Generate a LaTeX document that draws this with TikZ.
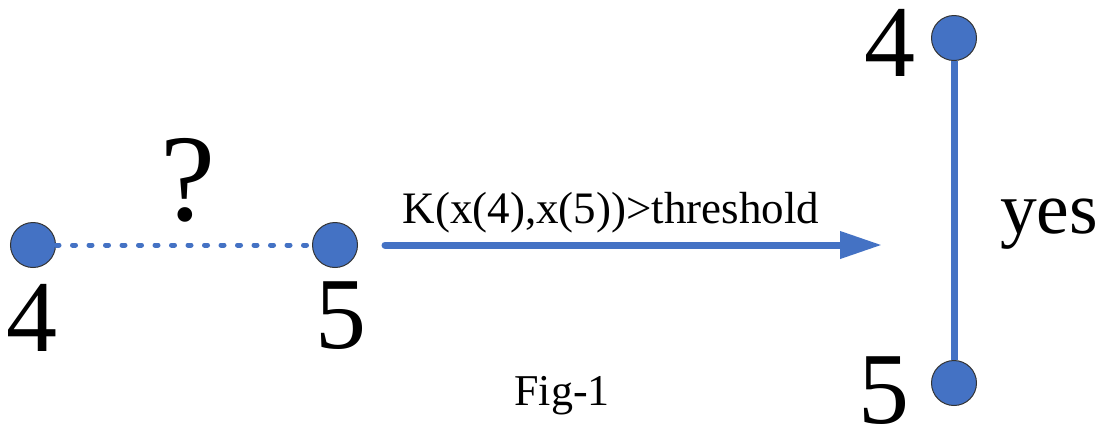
\documentclass[tikz,border=0pt]{standalone}
\usepackage{fontspec}
\setmainfont{Liberation Serif}
\usetikzlibrary{arrows.meta}
\definecolor{nodeblue}{RGB}{68,114,196}
\tikzset{
  vtx/.style={circle, draw=black!80, line width=0.5pt, fill=nodeblue, minimum size=22.5pt, inner sep=0pt},
  bignum/.style={inner sep=0pt, font=\fontsize{51}{51}\selectfont},
  edgeline/.style={nodeblue, line width=3.5pt}
}

\begin{document}
\begin{tikzpicture}[x=0.5pt, y=-0.5pt]
  \useasboundingbox (0,0) rectangle (1103,430);
  % left pair, not yet linked
  \node[vtx] (p4) at (33,245) {};
  \node[vtx] (p5) at (335,245) {};
  \draw[nodeblue, line width=2.5pt, line cap=round, dash pattern=on 1.5pt off 6.75pt] (p4) -- (p5);
  \node[bignum] (l4) at (32,318) {4};
  \node[bignum] (l5) at (341,316) {5};
  \node[inner sep=0pt, font=\fontsize{62}{62}\selectfont] (q) at (188,180) {?};
  % test arrow
  \coordinate (arrS) at (385,245);
  \coordinate (arrE) at (882,245);
  \draw[edgeline, line cap=round, -{Triangle[length=21pt, width=13pt]}] (arrS) -- (arrE);
  \node[inner sep=0pt, anchor=base, font=\fontsize{22.5}{22.5}\selectfont] (test) at (611,223) {K(x(4),x(5))>threshold};
  \node[inner sep=0pt, anchor=base, font=\fontsize{22}{22}\selectfont] (fig) at (562,405) {Fig-1};
  % right pair, linked
  \node[vtx] (q4) at (954,38) {};
  \node[vtx] (q5) at (954,383) {};
  \draw[edgeline] (q4) -- (q5);
  \node[bignum] (r4) at (890,43) {4};
  \node[bignum] (r5) at (884,391) {5};
  \node[inner sep=0pt, anchor=base, font=\fontsize{36.75}{36.75}\selectfont] (yes) at (1049,233) {yes};
\end{tikzpicture}
\end{document}
